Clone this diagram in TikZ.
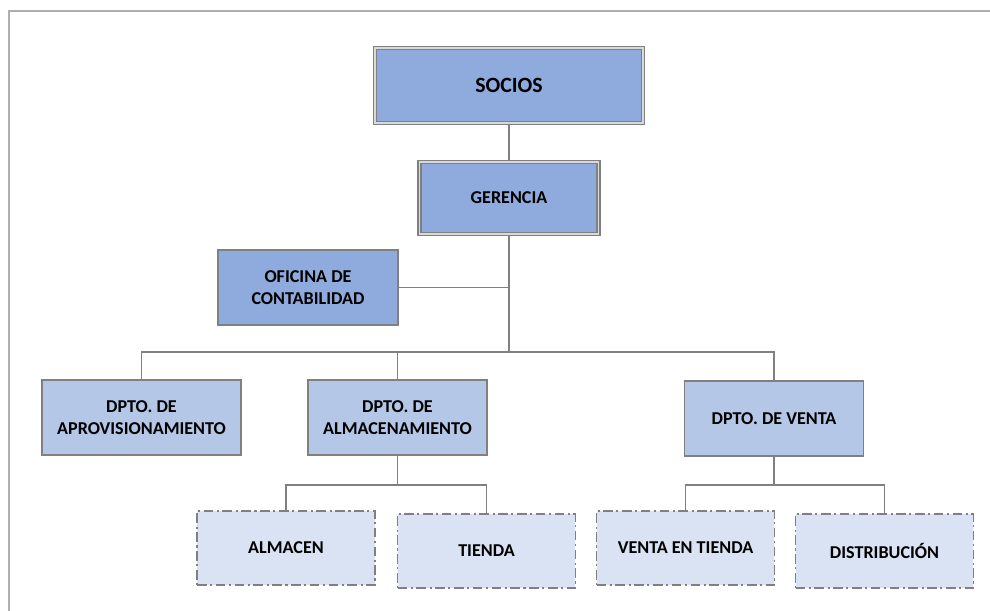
\documentclass[tikz,border=0pt]{standalone}
\usepackage{fontspec}
\setmainfont{Carlito}
\usepackage{xcolor}
\definecolor{linegray}{RGB}{128,128,128}
\definecolor{framegray}{RGB}{175,175,175}
\definecolor{boxdark}{RGB}{143,170,220}
\definecolor{boxmid}{RGB}{180,199,231}
\definecolor{boxlight}{RGB}{218,227,243}

\begin{document}
\begin{tikzpicture}[x=0.02cm,y=-0.02cm]
 	\tikzstyle{every node}+=[inner sep=0pt, align=center, font=\fontsize{10.3}{12.5}\selectfont\bfseries]
 	\tikzstyle{topbox}=[draw=linegray, line width=0.85pt, double=white!70!linegray, double distance=0.9pt, fill=boxdark]
 	\tikzstyle{staffbox}=[draw=linegray, line width=1.1pt, fill=boxdark]
 	\tikzstyle{deptbox}=[draw=linegray, line width=1.1pt, fill=boxmid, minimum width=3.58cm, minimum height=1.5cm]
 	\tikzstyle{unitbox}=[draw=linegray, line width=1.1pt, fill=boxlight, minimum width=3.56cm, minimum height=1.48cm, dash pattern=on 5.5pt off 2pt on 1.2pt off 2pt]
 	\tikzstyle{link}=[draw=linegray, line width=0.9pt]
 	\useasboundingbox (0,0) rectangle (990,611);
 	\draw [framegray, line width=1.2pt] (9,611) -- (9,11) -- (990,11);
 	\node [topbox, minimum width=5.36cm, minimum height=1.5cm, font=\fontsize{12.4}{14}\selectfont\bfseries] (socios) at (509,85.5) {SOCIOS};
 	\node [topbox, minimum width=3.58cm, minimum height=1.44cm] (gerencia) at (509,198) {GERENCIA};
 	\node [staffbox, minimum width=3.6cm, minimum height=1.5cm] (oficina) at (308,287.5) {OFICINA DE\\CONTABILIDAD};
 	\node [deptbox, minimum width=3.98cm] (aprov) at (141.5,417.5) {DPTO. DE\\APROVISIONAMIENTO};
 	\node [deptbox] (almac) at (397.5,417.5) {DPTO. DE\\ALMACENAMIENTO};
 	\node [deptbox] (venta) at (774,418.5) {DPTO. DE VENTA};
 	\node [unitbox] (almacen) at (286,548) {ALMACEN};
 	\node [unitbox] (tienda) at (486.5,551) {TIENDA};
 	\node [unitbox] (ventatienda) at (685.5,548) {VENTA EN TIENDA};
 	\node [unitbox] (distrib) at (884.5,551) {DISTRIBUCIÓN};
 	\coordinate (bus) at (509,352);
 	\coordinate (almbus) at (397.5,485);
 	\coordinate (ventabus) at (774,485);
 	\draw [link] (socios) -- (gerencia);
 	\draw [link] (gerencia) -- (bus);
 	\draw [link] (oficina.east) -- (oficina.east -| bus);
 	\draw [link] (aprov.north) |- (bus) -| (venta.north);
 	\draw [link] (almac.north) -- (almac.north |- bus);
 	\draw [link] (almac) -- (almbus);
 	\draw [link] (almacen.north) |- (almbus) -| (tienda.north);
 	\draw [link] (venta) -- (ventabus);
 	\draw [link] (ventatienda.north) |- (ventabus) -| (distrib.north);
\end{tikzpicture}
\end{document}
